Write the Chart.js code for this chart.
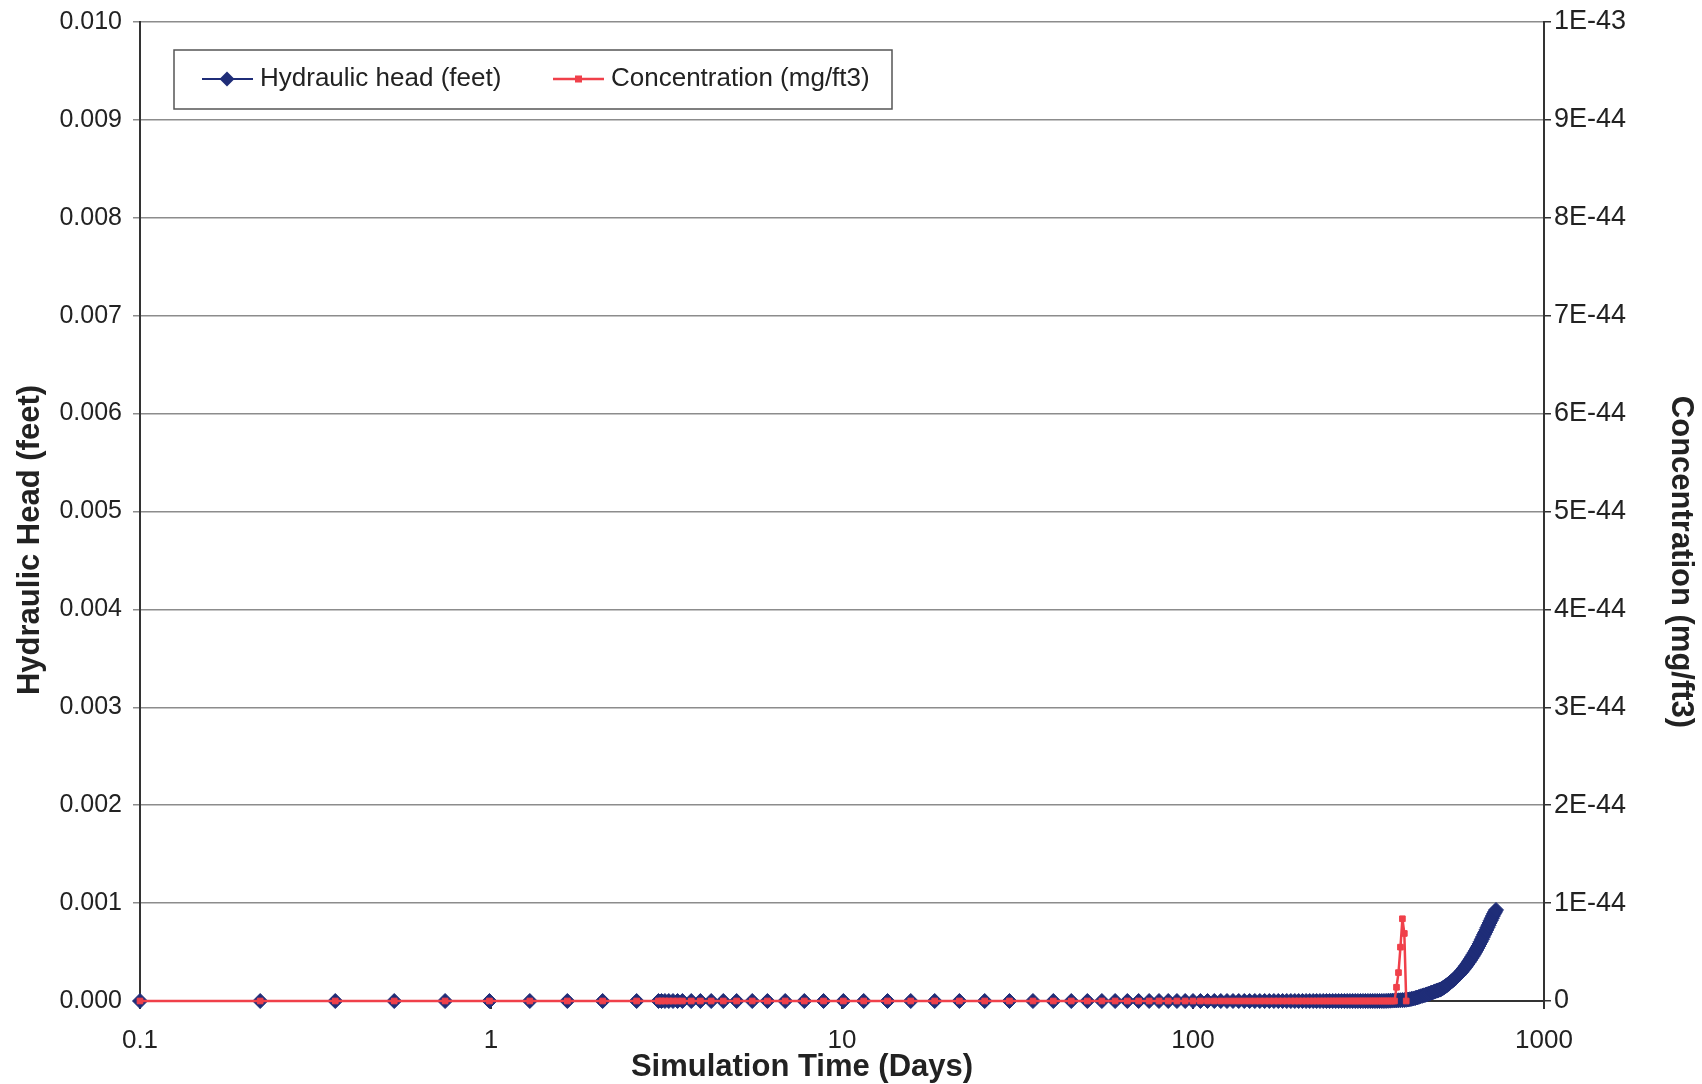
<!DOCTYPE html>
<html>
<head>
<meta charset="utf-8">
<title>Hydraulic head and concentration</title>
<script src="https://cdn.jsdelivr.net/npm/chart.js@4.4.1/dist/chart.umd.min.js"></script>
<style>
  html, body { margin: 0; padding: 0; background: #fff; }
  canvas { display: block; }
</style>
</head>
<body>
<canvas id="headChart" width="1702" height="1084"></canvas>
<script>
// Simulation times (days), one per model time step
const times = [
    0.1, 0.22, 0.36, 0.53, 0.74, 0.99, 1.29, 1.65, 2.08, 2.6,
    3.0, 3.06, 3.13, 3.21, 3.3, 3.4,
    3.51, 3.72, 3.95, 4.24, 4.59, 5.01, 5.55, 6.13, 6.89, 7.81,
    8.86, 10.09, 11.53, 13.48, 15.7, 18.37, 21.6, 25.5, 30,
    35, 40, 45, 50, 55, 60, 65, 70, 75, 80,
    85, 90, 95, 100, 105, 110, 115, 120, 125, 130,
    135, 140, 145, 150, 155, 160, 165, 170, 175, 180,
    185, 190, 195, 200, 205, 210, 215, 220, 225, 230,
    235, 240, 245, 250, 255, 260, 265, 270, 275, 280,
    285, 290, 295, 300, 305, 310, 315, 320, 325, 330,
    335, 340, 345, 350, 355, 360, 365, 370, 375, 380,
    385, 390, 395, 400, 405, 410, 415, 420, 425, 430,
    435, 440, 445, 450, 455, 460, 465, 470, 475, 480,
    485, 490, 495, 500, 505, 510, 515, 520, 525, 530,
    535, 540, 545, 550, 555, 560, 565, 570, 575, 580,
    585, 590, 595, 600, 605, 610, 615, 620, 625, 630,
    635, 640, 645, 650, 655, 660, 665, 670, 675, 680,
    685, 690, 695, 700, 705, 710, 715, 720, 725, 730
];

// Hydraulic head is 0 ft until ~350 days, then rises (values in 1e-4 ft)
const riseTimes = [
    350, 355, 360, 365, 370, 375, 380, 385, 390, 395,
    400, 405, 410, 415, 420, 425, 430, 435, 440, 445,
    450, 455, 460, 465, 470, 475, 480, 485, 490, 495,
    500, 505, 510, 515, 520, 525, 530, 535, 540, 545,
    550, 555, 560, 565, 570, 575, 580, 585, 590, 595,
    600, 605, 610, 615, 620, 625, 630, 635, 640, 645,
    650, 655, 660, 665, 670, 675, 680, 685, 690, 695,
    700, 705, 710, 715, 720, 725, 730
];
const riseHead = [
    0, 0.01, 0.02, 0.03, 0.04, 0.05, 0.06, 0.07, 0.08, 0.09,
    0.10, 0.12, 0.15, 0.18, 0.22, 0.26, 0.31, 0.36, 0.42, 0.48,
    0.53, 0.58, 0.63, 0.69, 0.75, 0.81, 0.87, 0.93, 0.99, 1.05,
    1.10, 1.16, 1.23, 1.32, 1.42, 1.53, 1.64, 1.76, 1.88, 2.00,
    2.12, 2.24, 2.37, 2.50, 2.64, 2.79, 2.94, 3.10, 3.26, 3.43,
    3.60, 3.78, 3.96, 4.15, 4.34, 4.54, 4.74, 4.95, 5.16, 5.38,
    5.60, 5.83, 6.06, 6.30, 6.54, 6.78, 7.02, 7.26, 7.50, 7.74,
    7.98, 8.22, 8.45, 8.68, 8.90, 9.10, 9.30
];

// Concentration is 0 until the spike around 380-400 days; series ends at 405
const spikeTimes = [380, 385, 390, 395, 400];
const spikeConc = [1.4e-45, 2.9e-45, 5.5e-45, 8.4e-45, 6.9e-45];
const concEnd = 405;

// Axis ticks
const timeTicks = [0.1, 1, 10, 100, 1000];
const headTicks = [0, 0.001, 0.002, 0.003, 0.004, 0.005, 0.006, 0.007, 0.008, 0.009, 0.010];
const concTicks = [0, 1e-44, 2e-44, 3e-44, 4e-44, 5e-44, 6e-44, 7e-44, 8e-44, 9e-44, 1e-43];

const headPoints = times.map(t => {
    const i = riseTimes.indexOf(t);
    return { x: t, y: i >= 0 ? riseHead[i] * 1e-4 : 0 };
});
const concPoints = times.filter(t => t <= concEnd).map(t => {
    const i = spikeTimes.indexOf(t);
    return { x: t, y: i >= 0 ? spikeConc[i] : 0 };
});

const FONT = "'Liberation Sans', Arial, sans-serif";
const TEXT = '#222';
const BLUE = '#1f2d78';
const RED = '#f0404a';

// titles and the boxed legend inside the plot
const decorations = {
    id: 'decorations',
    afterDraw(chart) {
        const ctx = chart.ctx;
        ctx.save();
        ctx.fillStyle = TEXT;
        ctx.font = 'bold 31px ' + FONT;
        ctx.textAlign = 'center';
        ctx.textBaseline = 'middle';
        ctx.fillText('Simulation Time (Days)', 802, 1067);

        ctx.save();
        ctx.translate(30, 540);
        ctx.rotate(-Math.PI / 2);
        ctx.fillText('Hydraulic Head (feet)', 0, 0);
        ctx.restore();

        ctx.save();
        ctx.translate(1681, 562);
        ctx.rotate(Math.PI / 2);
        ctx.fillText('Concentration (mg/ft3)', 0, 0);
        ctx.restore();

        // legend box
        ctx.fillStyle = '#fff';
        ctx.fillRect(174, 50, 718, 59);
        ctx.strokeStyle = '#555';
        ctx.lineWidth = 1.5;
        ctx.strokeRect(174, 50, 718, 59);

        const ly = 79;
        ctx.strokeStyle = BLUE;
        ctx.lineWidth = 2;
        ctx.beginPath();
        ctx.moveTo(202, ly);
        ctx.lineTo(253, ly);
        ctx.stroke();
        ctx.fillStyle = BLUE;
        ctx.beginPath();
        ctx.moveTo(227, ly - 7.5);
        ctx.lineTo(234.5, ly);
        ctx.lineTo(227, ly + 7.5);
        ctx.lineTo(219.5, ly);
        ctx.closePath();
        ctx.fill();

        ctx.strokeStyle = RED;
        ctx.lineWidth = 2.5;
        ctx.beginPath();
        ctx.moveTo(553, ly);
        ctx.lineTo(604, ly);
        ctx.stroke();
        ctx.fillStyle = RED;
        ctx.fillRect(575, ly - 3.5, 7, 7);

        ctx.fillStyle = TEXT;
        ctx.font = '26px ' + FONT;
        ctx.textAlign = 'left';
        ctx.fillText('Hydraulic head (feet)', 260, ly);
        ctx.fillText('Concentration (mg/ft3)', 611, ly);
        ctx.restore();
    }
};

const ctx = document.getElementById('headChart').getContext('2d');
const headChart = new Chart(ctx, {
    type: 'line',
    data: {
        datasets: [{
            label: 'Hydraulic head (feet)',
            data: headPoints,
            yAxisID: 'y',
            borderColor: BLUE,
            backgroundColor: BLUE,
            borderWidth: 2,
            pointStyle: 'rectRot',
            pointRadius: 7.5,
            pointBorderWidth: 1,
            tension: 0,
            clip: false,
            order: 2
        }, {
            label: 'Concentration (mg/ft3)',
            data: concPoints,
            yAxisID: 'y2',
            borderColor: RED,
            backgroundColor: RED,
            borderWidth: 2.5,
            pointStyle: 'rect',
            pointRadius: 4,
            pointBorderWidth: 1,
            tension: 0,
            clip: false,
            order: 1
        }]
    },
    options: {
        responsive: false,
        animation: false,
        layout: { padding: { top: 22, left: 0, right: 0, bottom: 0 } },
        plugins: {
            legend: { display: false },
            tooltip: { enabled: false }
        },
        scales: {
            x: {
                type: 'logarithmic',
                min: 0.1,
                max: 1000,
                afterBuildTicks: s => { s.ticks = timeTicks.map(v => ({ value: v })); },
                afterFit: s => { s.height = 83; s.paddingLeft = 0; s.paddingRight = 0; },
                ticks: {
                    callback: v => String(v),
                    font: { family: FONT, size: 26 },
                    color: TEXT,
                    padding: 16,
                    maxRotation: 0,
                    autoSkip: false
                },
                grid: { drawOnChartArea: false, tickLength: 8, color: '#333', lineWidth: 2 },
                border: { color: '#333', width: 2 }
            },
            y: {
                position: 'left',
                min: 0,
                max: 0.01,
                afterBuildTicks: s => { s.ticks = headTicks.map(v => ({ value: v })); },
                afterFit: s => { s.width = 140; s.paddingTop = 0; s.paddingBottom = 0; },
                ticks: {
                    callback: v => v.toFixed(3),
                    font: { family: FONT, size: 25 },
                    color: TEXT,
                    padding: 11
                },
                grid: { color: '#8c8c8c', lineWidth: 1.5, tickLength: 7 },
                border: { color: '#333', width: 2 }
            },
            y2: {
                position: 'right',
                min: 0,
                max: 1e-43,
                afterBuildTicks: s => { s.ticks = concTicks.map(v => ({ value: v })); },
                afterFit: s => { s.width = 158; s.paddingTop = 0; s.paddingBottom = 0; },
                ticks: {
                    callback: v => v === 0 ? '0' : v.toExponential(0).toUpperCase(),
                    font: { family: FONT, size: 27 },
                    color: TEXT,
                    padding: 3
                },
                grid: { drawOnChartArea: false, tickLength: 7, color: '#333', lineWidth: 1.5 },
                border: { color: '#333', width: 2 }
            }
        }
    },
    plugins: [decorations]
});
</script>
</body>
</html>
